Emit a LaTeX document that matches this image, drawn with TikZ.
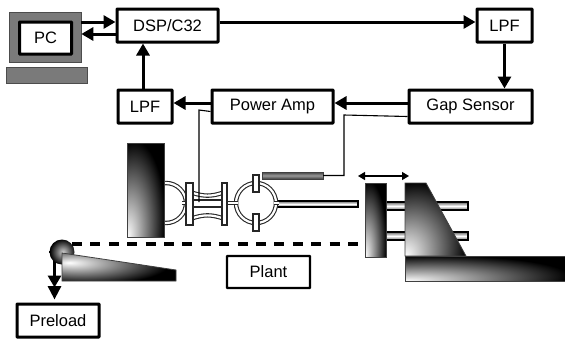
\documentclass[tikz,border=0pt]{standalone}
\usepackage{fontspec}
\setmainfont{Liberation Sans}
\usetikzlibrary{arrows.meta,positioning}
\pgfdeclareradialshading{cornerfade}{\pgfpoint{-25bp}{-25bp}}{color(0bp)=(white); color(41bp)=(black); color(100bp)=(black)}
\pgfdeclareradialshading{wedgefade}{\pgfpoint{-22bp}{8bp}}{color(0bp)=(white); color(36bp)=(black); color(100bp)=(black)}
\pgfdeclareradialshading{ballfade}{\pgfpoint{2bp}{0bp}}{color(0bp)=(white!80!black); color(26bp)=(black); color(100bp)=(black)}
\tikzset{
    blockbox/.style={draw,line width=3pt,rounded corners=0.5pt,fill=white,align=center,
        font=\fontsize{16.5}{20}\selectfont,inner sep=0pt,minimum height=33pt},
    signal/.style={line width=3pt,-{Triangle[length=12pt,width=13pt]}},
    pull/.style={line width=3pt,-{Triangle[length=13.5pt,width=13pt]}},
    wire/.style={line width=1.1pt},
    hatched/.style={draw=black!70,fill=black!52,line width=0.6pt},
    rodbar/.style={draw=black,line width=1.2pt,top color=black!60,bottom color=black!60,middle color=white},
    flexure/.style={draw=black!85,double=white,double distance=2.2pt,line width=1.1pt},
    flexplate/.style={draw=black!85,fill=white,line width=1.1pt},
    solid part/.style={draw=black!75,line width=0.8pt,shading=cornerfade}
}
\begin{document}
\begin{tikzpicture}[x=1pt,y=-1pt,on grid]
    \useasboundingbox (0,0) rectangle (565,338);
    % computer
    \node[hatched,minimum width=72pt,minimum height=50pt,inner sep=0pt] (monitor) at (45,37) {};
    \node[hatched,minimum width=81pt,minimum height=16pt,inner sep=0pt] (keyboard) at (46.5,75) {};
    \node[blockbox,minimum width=52pt,minimum height=32pt] (pc) at (45.5,38) {PC};
    % signal chain
    \node[blockbox,minimum width=101pt] (dsp) at (167.5,25.5) {DSP/C32};
    \node[blockbox,minimum width=55pt] (lpf_a) [right=337pt of dsp] {LPF};
    \node[blockbox,minimum width=123pt] (gap) [below=81pt of lpf_a,xshift=-34pt] {Gap Sensor};
    \node[blockbox,minimum width=121pt] (amp) [left=198pt of gap] {Power Amp};
    \node[blockbox,minimum width=54pt] (lpf_b) [left=127.5pt of amp] {LPF};
    \node[blockbox,minimum width=82pt] (preload) at (58,320.5) {Preload};
    \node[blockbox,minimum width=83pt,minimum height=32pt,line width=2.4pt] (plant) at (268.5,272) {Plant};
    \path (323,175.5) coordinate (sensor_end);
    \path (199,202) coordinate (coil_end);
    \path (54.5,258) coordinate (ball_base);
    \path (54.5,287.5) coordinate (pull_mid);
    \draw[signal] ([yshift=15pt]monitor.east) -- ([yshift=3.5pt]dsp.west);
    \draw[signal] ([yshift=-8.5pt]dsp.west) -- ([yshift=3pt]monitor.east);
    \draw[signal] (lpf_b.north -| 143,0) -- (dsp.south -| 143,0);
    \draw[signal] ([yshift=3.5pt]dsp.east) -- ([yshift=3.5pt]lpf_a.west);
    \draw[signal] (lpf_a.south) -- (lpf_a.south |- gap.north);
    \draw[signal] ([yshift=3.5pt]gap.west) -- ([yshift=3.5pt]amp.east);
    \draw[signal] ([yshift=3.5pt]amp.west) -- ([yshift=3.5pt]lpf_b.east);
    % plant parts
    \draw[line width=3.6pt,dash pattern=on 10pt off 8.4pt] (72,244) -- (365,244);
    \draw[rodbar] (277,201) rectangle (358,207);
    \draw[rodbar] (386,202) rectangle (468,210);
    \draw[rodbar] (386,232) rectangle (468,240);
    \draw[flexure] (166,203) circle (20);
    \draw[flexure] (256,203) circle (20);
    \draw[flexure] (182,203) -- (193,203);
    \draw[flexure] (222,203) -- (238,203);
    \draw[flexure] (274,203) -- (279,203);
    \draw[flexure] (193,193) to[bend right=18] (222,193);
    \draw[flexure] (193,218) to[bend left=18] (222,218);
    \draw[flexplate] (193,200) rectangle (222,207);
    \foreach \px/\py/\pw/\ph in {186/183/7/42,222/183/5/42,253/175/6/17,253/214/6/17}
        \draw[flexplate] (\px,\py) rectangle ++(\pw,\ph);
    \draw[solid part] (127,143) rectangle (164,237);
    \draw[solid part] (365,183) rectangle (386,257);
    \draw[solid part] (405,183) -- (426,183) -- (466,256) -- (405,256) -- cycle;
    \draw[solid part] (405,256) rectangle (565,281);
    \draw[draw=black!75,line width=0.8pt,top color=black!75,bottom color=black!75,middle color=black!40] (262,172) rectangle (323,179);
    \draw[signal] (ball_base) -- (pull_mid);
    \draw[pull,shorten >=3pt] (pull_mid) -- (ball_base |- preload.north);
    \node[circle,shading=ballfade,minimum size=25pt,inner sep=0pt] (ball) at (62,252) {};
    \draw[draw=black!75,line width=0.8pt,shading=wedgefade] (62,253) -- (176,270) -- (176,281) -- (62,281) -- cycle;
    % thin wires
    \draw[wire] ([yshift=13pt]amp.south west) -- (199,110) -- (coil_end);
    \draw[wire] ([yshift=8pt]gap.south west) -- (344,115) -- (344,175.5) -- (sensor_end);
    \draw[line width=1.2pt,{Triangle[length=7pt,width=8pt]}-{Triangle[length=7pt,width=8pt]}] (358,176) -- (409,176);
\end{tikzpicture}
\end{document}
